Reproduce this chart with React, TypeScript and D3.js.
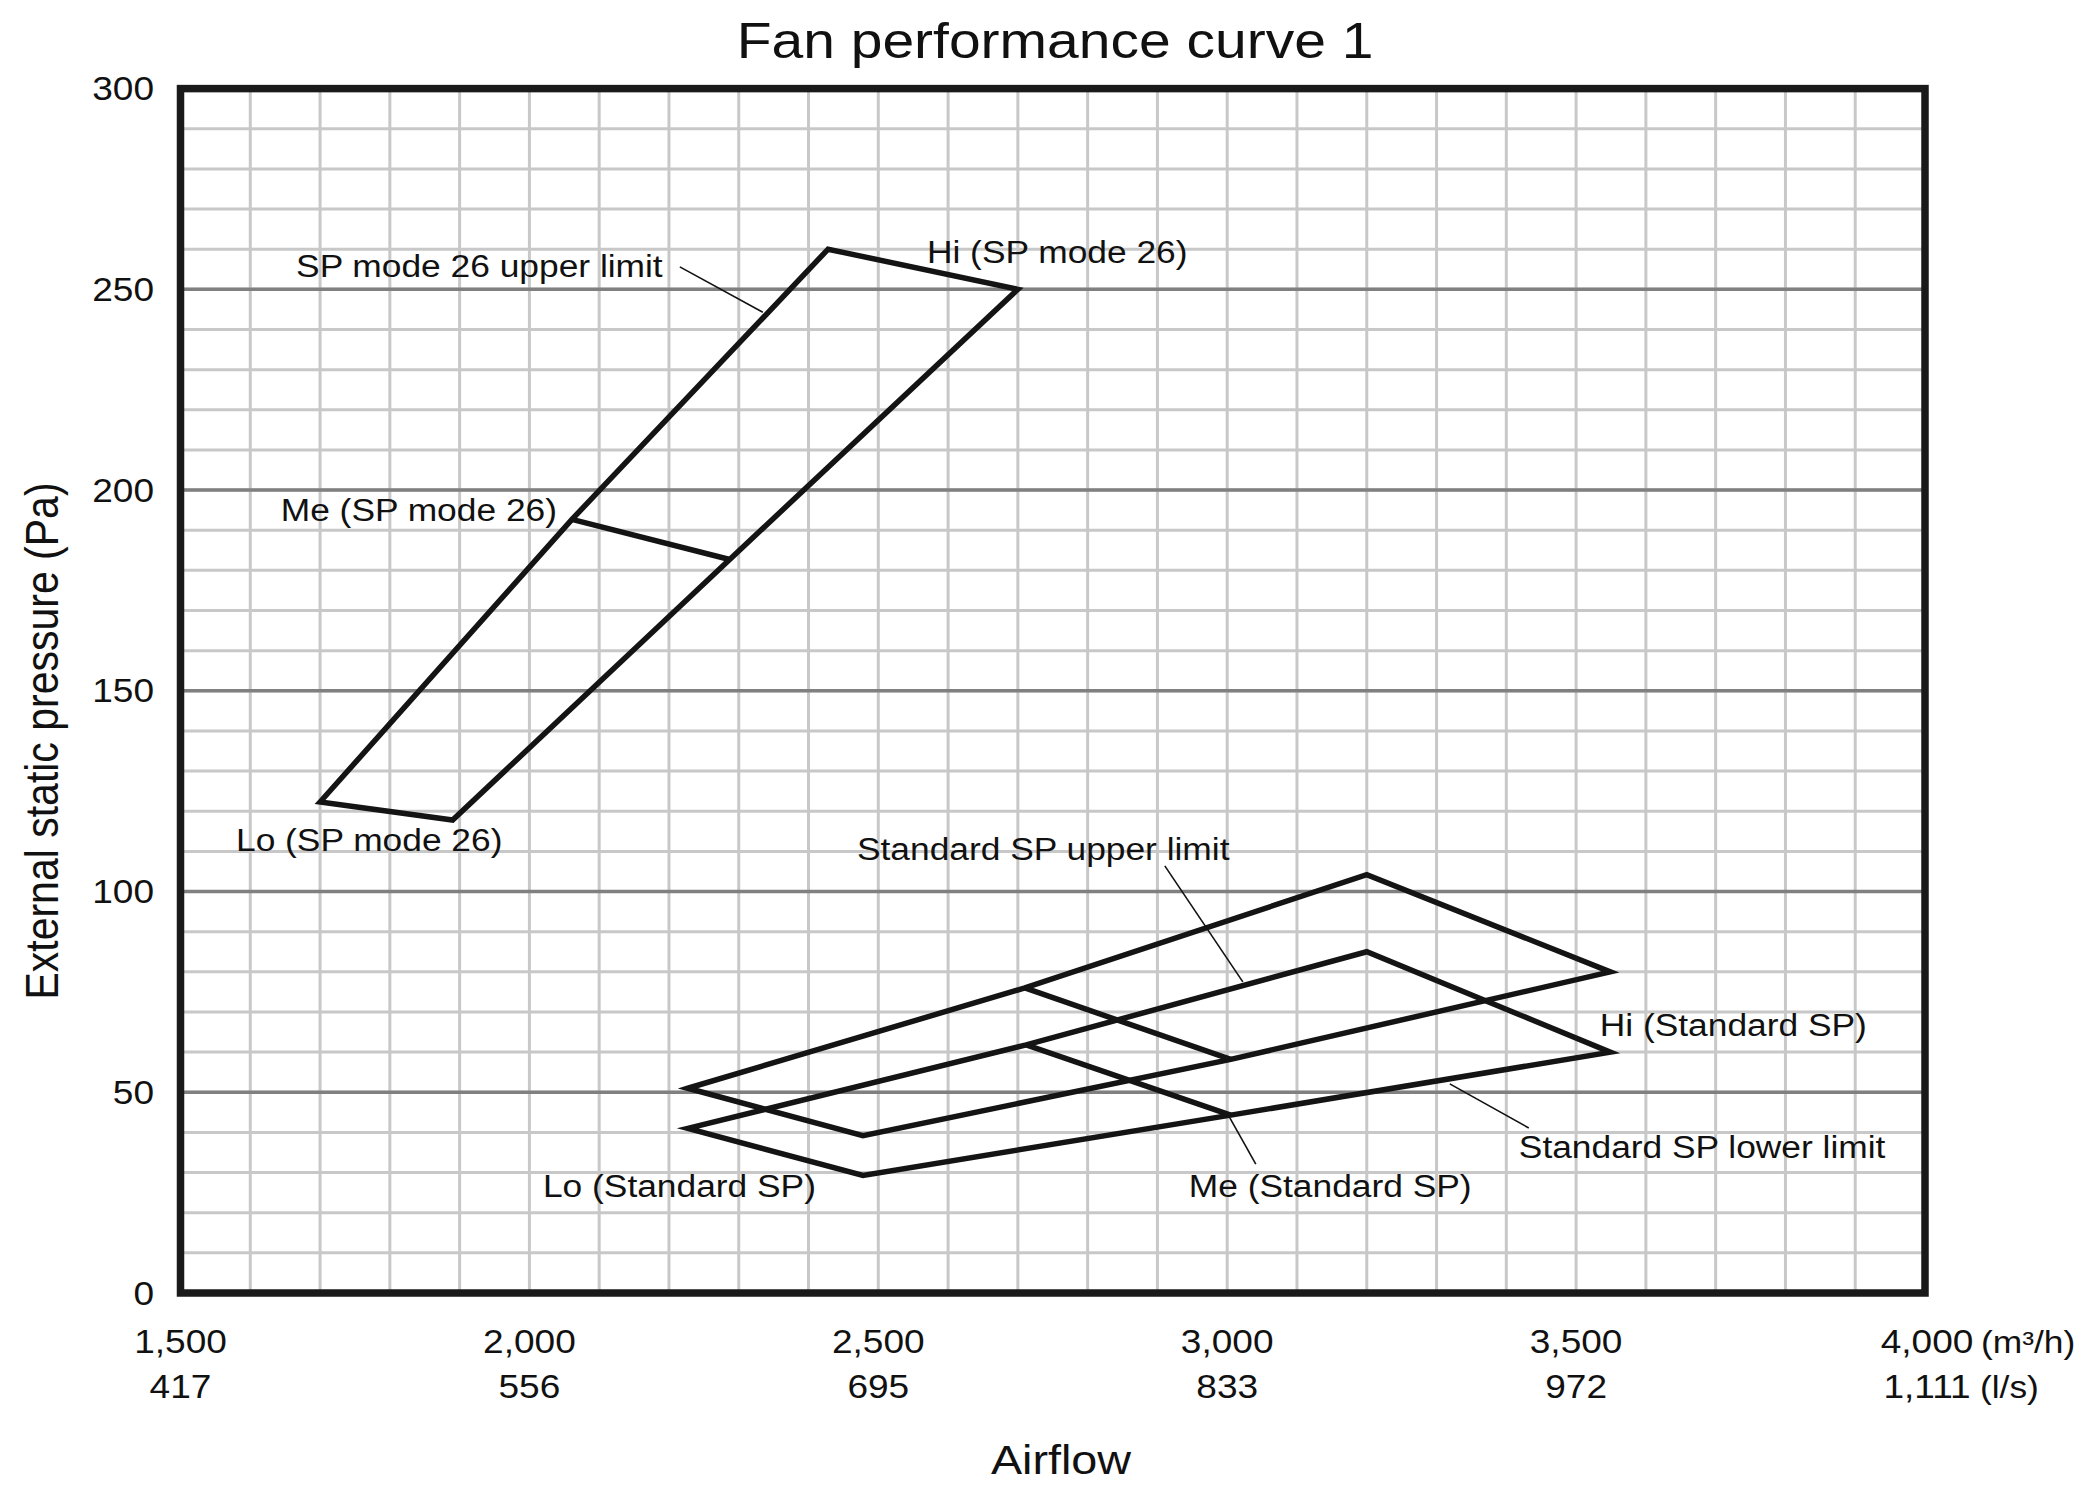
import React from "react";
import * as d3 from "d3";

type Pt = { x: number; y: number };

// ---------- data ----------
const xDomain = [1500, 4000];
const yDomain = [0, 300];
const xTickValues = [1500, 2000, 2500, 3000, 3500, 4000];
const xTickLabelsM3h = ["1,500", "2,000", "2,500", "3,000", "3,500", "4,000"];
const xTickLabelsLs = ["417", "556", "695", "833", "972", "1,111"];
const yTickValues = [0, 50, 100, 150, 200, 250, 300];

// SP mode 26 (points: Lo, Me, Hi)
const sp26UpperLimit: Pt[] = [
  { x: 1700, y: 122.3 },
  { x: 2061, y: 192.7 },
  { x: 2428, y: 260 },
];
const sp26LowerLimit: Pt[] = [
  { x: 1890, y: 117.8 },
  { x: 2287, y: 182.7 },
  { x: 2700, y: 250 },
];
// Standard SP – upper band (points: Lo, Me, Hi)
const stdUpperBandTop: Pt[] = [
  { x: 2227, y: 51 },
  { x: 2710, y: 76 },
  { x: 3200, y: 104.2 },
];
const stdUpperBandBottom: Pt[] = [
  { x: 2478, y: 39.2 },
  { x: 3005, y: 58.2 },
  { x: 3549, y: 80 },
];
// Standard SP – lower band
const stdLowerBandTop: Pt[] = [
  { x: 2227, y: 41 },
  { x: 2712, y: 61.8 },
  { x: 3200, y: 85 },
];
const stdLowerBandBottom: Pt[] = [
  { x: 2478, y: 29.3 },
  { x: 3005, y: 44.3 },
  { x: 3549, y: 60 },
];

const titleText = "Fan performance curve 1";
const yAxisTitle = "External static pressure (Pa)";
const xAxisTitle = "Airflow";
const unitM3h = "(m³/h)";
const unitLs = "(l/s)";

const labelTexts = {
  sp26Upper: "SP mode 26 upper limit",
  sp26Hi: "Hi (SP mode 26)",
  sp26Me: "Me (SP mode 26)",
  sp26Lo: "Lo (SP mode 26)",
  stdUpper: "Standard SP upper limit",
  stdHi: "Hi (Standard SP)",
  stdLower: "Standard SP lower limit",
  stdMe: "Me (Standard SP)",
  stdLo: "Lo (Standard SP)",
};

// ---------- drawing ----------
const W = 2088;
const H = 1486;
const FONT = "'Liberation Sans', Arial, Helvetica, sans-serif";
const SX = 1.14;
const INK = "#111";

function T(props: {
  x: number;
  y: number;
  size: number;
  anchor?: "start" | "middle" | "end";
  rotate?: number;
  children: React.ReactNode;
}) {
  const { x, y, size, anchor = "start", rotate, children } = props;
  const tr = `translate(${x},${y}) scale(${SX},1)` + (rotate ? ` rotate(${rotate})` : "");
  return (
    <text transform={tr} textAnchor={anchor} fontSize={size} fontFamily={FONT} fill={INK}>
      {children}
    </text>
  );
}

export default function App() {
  const left = 180.5,
    right = 1925,
    top = 88.6,
    bottom = 1293;
  const x = d3.scaleLinear().domain(xDomain).range([left, right]);
  const y = d3.scaleLinear().domain(yDomain).range([bottom, top]);

  const minorX = d3.range(xDomain[0], xDomain[1] + 1, 100);
  const minorY = d3.range(yDomain[0], yDomain[1] + 1, 10);
  const majorY = minorY.filter((v) => v % 50 === 0);

  const line = d3
    .line<Pt>()
    .x((d) => x(d.x))
    .y((d) => y(d.y));

  const shape = (upper: Pt[], lower: Pt[]) =>
    line([...upper, ...lower.slice().reverse()]) + "Z";
  const meSeg = (upper: Pt[], lower: Pt[]) => line([upper[1], lower[1]]) as string;

  const shapes = [
    [sp26UpperLimit, sp26LowerLimit],
    [stdUpperBandTop, stdUpperBandBottom],
    [stdLowerBandTop, stdLowerBandBottom],
  ];

  const leaders: [Pt, Pt][] = [
    [{ x: 2215.6, y: 255.6 }, { x: 2334.5, y: 244.3 }],
    [{ x: 2910.6, y: 106.4 }, { x: 3022.4, y: 77.5 }],
    [{ x: 3319, y: 52.1 }, { x: 3432.2, y: 41.1 }],
    [{ x: 3003.8, y: 43.6 }, { x: 3041, y: 32.1 }],
  ];

  const AF = 31; // annotation font size
  const TF = 32.5; // tick font size

  return (
    <div style={{ position: "absolute", left: 0, top: 0 }}>
      <svg width={W} height={H} viewBox={`0 0 ${W} ${H}`} style={{ display: "block", background: "#fff" }}>
        <rect x={0} y={0} width={W} height={H} fill="#fff" />
        {/* grid */}
        <g>
          {minorX.map((v) => (
            <line key={"vx" + v} x1={x(v)} x2={x(v)} y1={top} y2={bottom} stroke="#c8c8c8" strokeWidth={3} />
          ))}
          {minorY.map((v) => (
            <line key={"hy" + v} x1={left} x2={right} y1={y(v)} y2={y(v)} stroke="#c8c8c8" strokeWidth={3} />
          ))}
          {majorY.map((v) => (
            <line key={"my" + v} x1={left} x2={right} y1={y(v)} y2={y(v)} stroke="#808080" strokeWidth={3.5} />
          ))}
        </g>

        {/* curves */}
        <g fill="none" stroke="#141414" strokeWidth={5.5} strokeLinejoin="miter" strokeMiterlimit={20}>
          {shapes.map(([u, l], i) => (
            <g key={"s" + i}>
              <path d={shape(u, l)} />
              <path d={meSeg(u, l)} />
            </g>
          ))}
        </g>

        {/* leaders */}
        <g stroke="#111" strokeWidth={1.6}>
          {leaders.map(([a, b], i) => (
            <line key={"ld" + i} x1={x(a.x)} y1={y(a.y)} x2={x(b.x)} y2={y(b.y)} />
          ))}
        </g>

        {/* frame */}
        <rect x={left} y={top} width={right - left} height={bottom - top} fill="none" stroke="#1a1a1a" strokeWidth={7.5} />

        {/* y ticks */}
        {yTickValues.map((v) => (
          <T key={"yt" + v} x={154} y={y(v) + TF * 0.358} size={TF} anchor="end">
            {String(v)}
          </T>
        ))}

        {/* x ticks */}
        {xTickValues.map((v, i) => (
          <g key={"xt" + v}>
            <T x={x(v) + (i === 5 ? 2 : 0)} y={1353} size={TF} anchor="middle">
              {xTickLabelsM3h[i]}
            </T>
            <T x={x(v) + (i === 5 ? 2 : 0)} y={1398} size={TF} anchor="middle">
              {xTickLabelsLs[i]}
            </T>
          </g>
        ))}
        <T x={1981} y={1353} size={31}>
          {unitM3h}
        </T>
        <T x={1980} y={1398} size={31}>
          {unitLs}
        </T>

        {/* titles */}
        <T x={1055} y={58} size={50} anchor="middle">
          {titleText}
        </T>
        <T x={58} y={741} size={41} anchor="middle" rotate={-90}>
          {yAxisTitle}
        </T>
        <T x={1061} y={1474} size={41} anchor="middle">
          {xAxisTitle}
        </T>

        {/* annotations */}
        <T x={x(2191)} y={y(253.1)} size={AF} anchor="end">
          {labelTexts.sp26Upper}
        </T>
        <T x={x(2569.7)} y={y(256.6)} size={AF}>
          {labelTexts.sp26Hi}
        </T>
        <T x={x(2039.5)} y={y(192.3)} size={AF} anchor="end">
          {labelTexts.sp26Me}
        </T>
        <T x={x(1579.5)} y={y(110.1)} size={AF}>
          {labelTexts.sp26Lo}
        </T>
        <T x={x(2469.4)} y={y(107.9)} size={AF}>
          {labelTexts.stdUpper}
        </T>
        <T x={x(3533.9)} y={y(64.0)} size={AF}>
          {labelTexts.stdHi}
        </T>
        <T x={x(3417.9)} y={y(33.6)} size={AF}>
          {labelTexts.stdLower}
        </T>
        <T x={x(2945)} y={y(23.9)} size={AF}>
          {labelTexts.stdMe}
        </T>
        <T x={x(2019.4)} y={y(23.9)} size={AF}>
          {labelTexts.stdLo}
        </T>
      </svg>
    </div>
  );
}
